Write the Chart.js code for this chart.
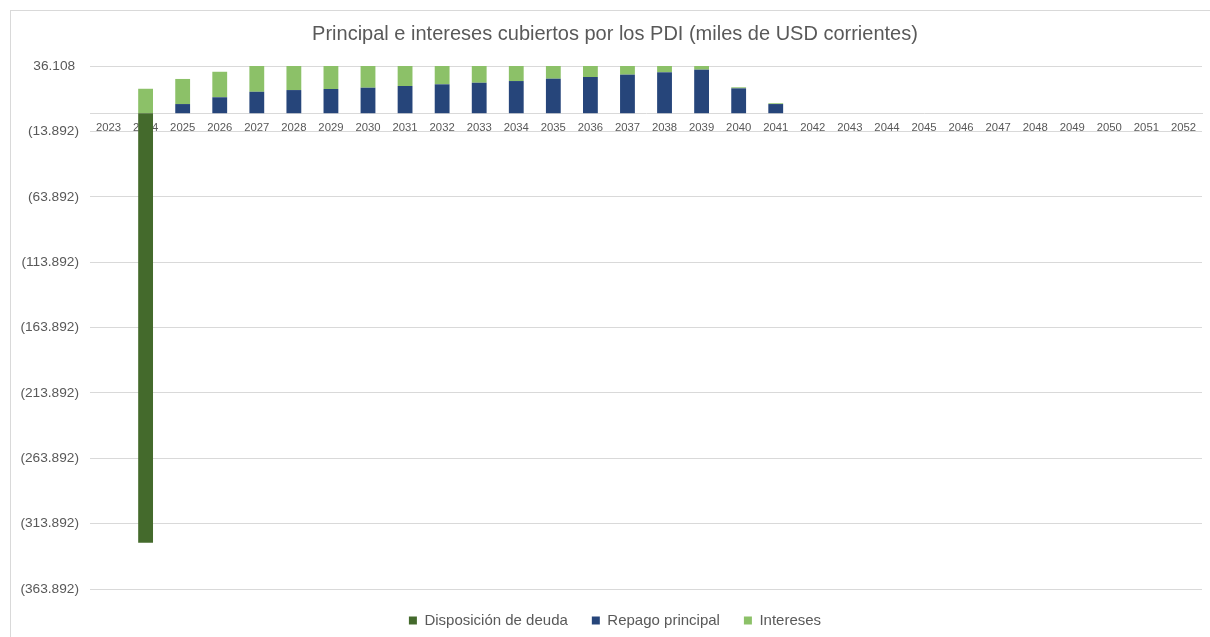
<!DOCTYPE html>
<html lang="es">
<head>
<meta charset="utf-8">
<title>Principal e intereses cubiertos por los PDI</title>
<script src="https://cdn.jsdelivr.net/npm/chart.js@4.4.1/dist/chart.umd.min.js"></script>
<style>
  html, body { margin: 0; padding: 0; background: #ffffff; }
  body { width: 1210px; height: 637px; position: relative; overflow: hidden; }
  #frame {
    position: absolute; left: 10px; top: 10px; width: 1300px; height: 700px;
    border-left: 1px solid #d9d9d9; border-top: 1px solid #d9d9d9;
  }
  #wrap { position: absolute; left: 0; top: 0; width: 1210px; height: 637px; }
</style>
</head>
<body>
<div id="frame"></div>
<div id="wrap"><canvas id="chart" width="1210" height="637"></canvas></div>
<script>
// Años del calendario de pagos
const years = ['2023','2024','2025','2026','2027','2028','2029','2030','2031','2032',
               '2033','2034','2035','2036','2037','2038','2039','2040','2041','2042',
               '2043','2044','2045','2046','2047','2048','2049','2050','2051','2052'];

// Miles de USD corrientes
const disposicionDeuda = [0, -328500, 0, 0, 0, 0, 0, 0, 0, 0,
                          0, 0, 0, 0, 0, 0, 0, 0, 0, 0,
                          0, 0, 0, 0, 0, 0, 0, 0, 0, 0];
const repagoPrincipal = [0, 0, 7000, 12200, 16400, 17700, 18500, 19500, 20800, 22100,
                         23300, 24600, 26400, 27700, 29500, 31300, 33300, 19000, 7000, 0,
                         0, 0, 0, 0, 0, 0, 0, 0, 0, 0];
const intereses = [0, 18700, 19200, 19500, 20600, 19300, 18500, 17500, 16200, 14900,
                   13700, 12400, 10600, 9300, 7500, 5500, 3700, 800, 600, 0,
                   0, 0, 0, 0, 0, 0, 0, 0, 0, 0];

// Marcas del eje vertical
const yTicks = [36108, -13892, -63892, -113892, -163892, -213892, -263892, -313892, -363892];

const FONT = "'Liberation Sans', Arial, sans-serif";
const TEXT = '#595959';
const GRID = '#d9d9d9';

// Formato contable: separador de miles con punto y negativos entre paréntesis
function formatMiles(v) {
  const s = Math.round(Math.abs(v)).toString().replace(/\B(?=(\d{3})+(?!\d))/g, '.');
  return v < 0 ? '(' + s + ')' : s + ' ';
}

// Centra título y leyenda sobre el marco del gráfico (que empieza en x = 10)
const centrarBloques = {
  id: 'centrarBloques',
  afterLayout(chart) {
    for (const b of [chart.titleBlock, chart.legend]) {
      if (b) { b.left += 14; b.right += 14; }
    }
  }
};

new Chart(document.getElementById('chart'), {
  type: 'bar',
  data: {
    labels: years,
    datasets: [
      { label: 'Disposición de deuda', data: disposicionDeuda, backgroundColor: '#446a2c' },
      { label: 'Repago principal', data: repagoPrincipal, backgroundColor: '#26457a' },
      { label: 'Intereses', data: intereses, backgroundColor: '#8cc168' }
    ]
  },
  plugins: [centrarBloques],
  options: {
    responsive: false,
    animation: false,
    devicePixelRatio: 1,
    layout: { padding: { left: 0, right: 8, top: 0, bottom: -1 } },
    datasets: { bar: { categoryPercentage: 1, barPercentage: 0.4 } },
    plugins: {
      title: {
        display: true,
        text: 'Principal e intereses cubiertos por los PDI (miles de USD corrientes)',
        color: TEXT,
        font: { family: FONT, size: 20, weight: 'normal' },
        padding: { top: 22, bottom: 20 }
      },
      legend: {
        position: 'bottom',
        labels: {
          color: TEXT,
          font: { family: FONT, size: 15 },
          boxWidth: 8,
          boxHeight: 8,
          padding: 24
        }
      },
      tooltip: { enabled: false }
    },
    scales: {
      x: {
        stacked: true,
        position: { y: 0 },
        grid: { display: false, drawTicks: false },
        border: { display: true, color: GRID, width: 1 },
        ticks: {
          color: TEXT,
          font: { family: FONT, size: 11.3 },
          maxRotation: 0,
          autoSkip: false,
          padding: 8
        }
      },
      y: {
        stacked: true,
        min: -363892,
        max: 36108,
        afterBuildTicks: (scale) => { scale.ticks = yTicks.map(v => ({ value: v })); },
        afterFit: (scale) => { scale.width = 90; },
        grid: { color: GRID, lineWidth: 1, drawTicks: false },
        border: { display: false },
        ticks: {
          color: TEXT,
          font: { family: FONT, size: 13.7 },
          padding: 11,
          callback: (v) => formatMiles(v)
        }
      }
    }
  }
});
</script>
</body>
</html>
